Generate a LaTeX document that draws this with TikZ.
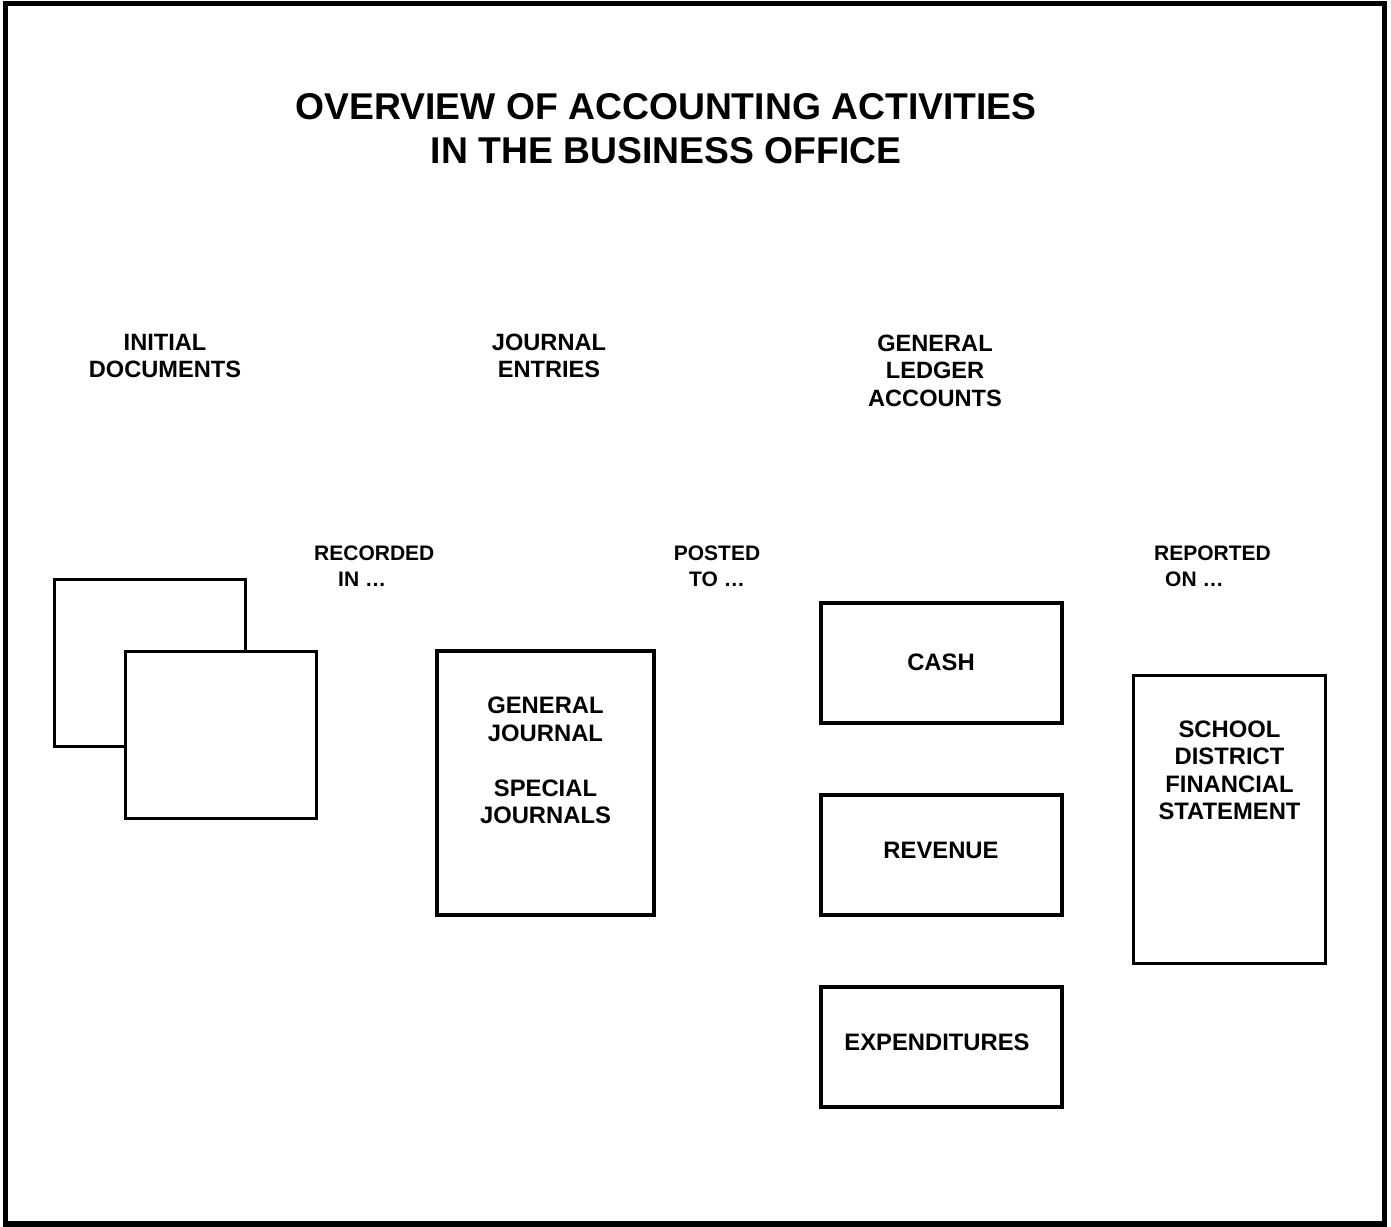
\documentclass[tikz,border=0pt]{standalone}
\usepackage{fontspec}
\setmainfont{Liberation Sans}
\begin{document}
\begin{tikzpicture}[x=1pt,y=-1pt,
  box/.style={draw=black,line width=3.6pt,fill=white,inner sep=0pt,outer sep=0pt},
  titletext/.style={inner sep=0pt,align=center,font=\bfseries\fontsize{37.3}{44}\selectfont},
  headtext/.style={inner sep=0pt,align=center,font=\bfseries\fontsize{23.6}{27}\selectfont},
  flowtext/.style={inner sep=0pt,font=\bfseries\fontsize{21}{26}\selectfont},
  boxtext/.style={inner sep=0pt,align=center,font=\bfseries\fontsize{23.8}{27.5}\selectfont}]
\useasboundingbox (0,0) rectangle (1391,1226);
\draw[line width=5.5pt] (5.5,3.5) rectangle (1384.5,1224);
% title
\node[titletext] (title) at (666,129) {OVERVIEW OF ACCOUNTING ACTIVITIES\\IN THE BUSINESS OFFICE};
% column headings
\node[headtext] (hdoc) at (165,356) {INITIAL\\DOCUMENTS};
\node[headtext] (hjour) at (549,356) {JOURNAL\\ENTRIES};
\node[headtext,font=\bfseries\fontsize{23.6}{27.5}\selectfont] (hled) at (935,370.5) {GENERAL\\LEDGER\\ACCOUNTS};
% flow labels
\node[flowtext,align=left,anchor=west] (lrec) at (314,566) {RECORDED\\\hspace*{24pt}IN \ldots};
\node[flowtext,align=center] (lpost) at (717,566) {POSTED\\TO \ldots};
\node[flowtext,align=left,anchor=west] (lrep) at (1154,566) {REPORTED\\\hspace*{11pt}ON \ldots};
% documents
\node[box,minimum width=191pt,minimum height=167pt] (docback) at (150,663) {};
\node[box,minimum width=191pt,minimum height=167pt] (docfront) at (221,735) {};
% journal
\node[box,minimum width=216.5pt,minimum height=264pt] (journal) at (545.5,783) {};
\node[boxtext] (tjournal) at (545.5,760.5) {GENERAL\\JOURNAL\\[27.5pt]SPECIAL\\JOURNALS};
% ledger accounts
\node[box,minimum width=241pt,minimum height=120pt] (cash) at (941.5,663) {};
\node[boxtext] (tcash) at (941,662) {CASH};
\node[box,minimum width=241pt,minimum height=120pt] (revenue) at (941.5,855) {};
\node[boxtext] (trevenue) at (941,850) {REVENUE};
\node[box,minimum width=241pt,minimum height=120pt] (expend) at (941.5,1047) {};
\node[boxtext] (texpend) at (937,1042) {EXPENDITURES};
% statement
\node[box,minimum width=192pt,minimum height=288pt] (statement) at (1229.5,819.5) {};
\node[boxtext] (tstatement) at (1229.5,770.5) {SCHOOL\\DISTRICT\\FINANCIAL\\STATEMENT};
\end{tikzpicture}
\end{document}
